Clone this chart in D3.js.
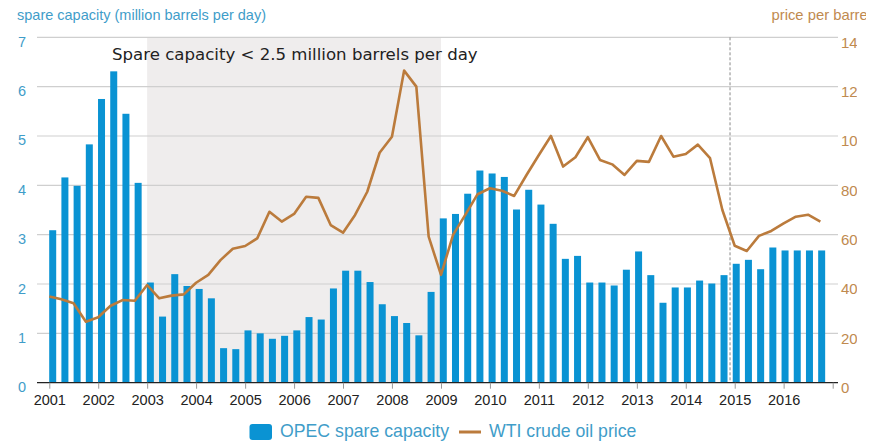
<!DOCTYPE html>
<html><head><meta charset="utf-8">
<script src="https://cdn.jsdelivr.net/npm/d3@7"></script>
<style>
html,body{margin:0;padding:0;background:#fff;}
svg{display:block;font-family:"Liberation Sans",Arial,sans-serif;}
</style></head>
<body>
<svg id="c" width="881" height="441"></svg>
<script>
// quarters 2001Q1..2016Q4
const years = d3.range(2001, 2017);
const quarters = years.flatMap(y => [0,1,2,3].map(q => ({year:y, q})));
const spareCapacity = [
  3.09, 4.16, 3.99, 4.83,
  5.75, 6.31, 5.45, 4.05,
  2.03, 1.34, 2.20, 1.96,
  1.90, 1.71, 0.70, 0.68,
  1.06, 1.00, 0.89, 0.95,
  1.06, 1.33, 1.28, 1.91,
  2.27, 2.27, 2.04, 1.59,
  1.35, 1.21, 0.96, 1.84,
  3.33, 3.42, 3.83, 4.30,
  4.24, 4.17, 3.51, 3.91,
  3.61, 3.22, 2.51, 2.57,
  2.03, 2.03, 1.97, 2.29,
  2.66, 2.18, 1.62, 1.93,
  1.93, 2.07, 2.01, 2.18,
  2.41, 2.49, 2.30, 2.74,
  2.68, 2.68, 2.68, 2.68
];
const wtiPrice = [
  34.9, 33.8, 32.2, 24.7,
  26.5, 31.1, 33.5, 33.2,
  39.6, 34.2, 35.3, 35.8,
  40.5, 43.7, 49.7, 54.3,
  55.4, 58.5, 69.3, 65.3,
  68.4, 75.4, 74.9, 63.9,
  60.8, 68.0, 77.4, 93.2,
  99.7, 126.5, 120.0, 59.2,
  43.7, 59.9, 68.0, 76.4,
  78.8, 77.8, 75.7, 84.2,
  92.3, 100.0, 87.6, 91.4,
  99.5, 90.3, 88.5, 84.2,
  89.9, 89.5, 100.0, 91.6,
  92.7, 96.5, 91.0, 70.0,
  55.5, 53.4, 59.5, 61.5,
  64.6, 67.3, 68.1, 65.3
];
const leftTicks = [0,1,2,3,4,5,6,7];
const rightTicks = [0,20,40,60,80,100,120,140];
const yearTicks = d3.range(2001, 2018);
const shadeStart = new Date(2003,0,1), shadeEnd = new Date(2009,0,1);
const markerDate = new Date(2014,10,27);
const annotation = "Spare capacity < 2.5 million barrels per day";
const leftTitle = "spare capacity (million barrels per day)";
const rightTitle = "price per barrel";
const legendItems = ["OPEC spare capacity", "WTI crude oil price"];

const svg = d3.select("#c");
const L = 37, R = 838, T = 37.3, B = 382.7;
const x = d3.scaleTime().domain([new Date(2001,0,1), new Date(2017,0,1)]).range([49.3, 832.7]);
const xb = d3.scalePoint().domain(d3.range(quarters.length))
  .range([x(new Date(2001,0,1)) + 3.4, x(new Date(2016,9,1)) + 1.3]);
const yL = d3.scaleLinear().domain([0,7]).range([B, T]);
const yR = d3.scaleLinear().domain([0,140]).range([B, T]);
const qDate = d => new Date(d.year, d.q*3, 1);

const blue = "#0a93d3", lblue = "#3f9dc9", brown = "#bb7b3c", tan = "#c08a4f";

const defs = svg.append("defs");
defs.append("clipPath").attr("id","clipR").append("rect").attr("x",0).attr("y",0).attr("width",857).attr("height",441);
defs.append("clipPath").attr("id","clipT").append("rect").attr("x",0).attr("y",0).attr("width",866).attr("height",441);

// shaded region
svg.append("rect").attr("x", x(shadeStart)).attr("y", T)
  .attr("width", x(shadeEnd) - x(shadeStart)).attr("height", B - T).attr("fill", "#efeded");

// gridlines
svg.append("g").selectAll("line").data(leftTicks.filter(d=>d>0)).join("line")
  .attr("x1", L).attr("x2", R).attr("y1", d=>yL(d)).attr("y2", d=>yL(d))
  .attr("stroke", "#cfcfcf").attr("stroke-width", 1.2);

// annotation
svg.append("text").attr("x", 112).attr("y", 60).text(annotation)
  .attr("font-family", "DejaVu Sans, Verdana, sans-serif").attr("font-size", 16.6).attr("fill", "#222");

// bars
svg.append("g").selectAll("rect").data(spareCapacity).join("rect")
  .attr("x", (d,i) => xb(i) - 3.5).attr("width", 7)
  .attr("y", d => yL(d)).attr("height", d => B - yL(d)).attr("fill", blue);

// dashed marker
svg.append("line").attr("x1", x(markerDate)).attr("x2", x(markerDate)).attr("y1", T).attr("y2", B)
  .attr("stroke", "#8a8a8a").attr("stroke-width", 1).attr("stroke-dasharray", "3,2");

// line
const line = d3.line().x((d,i) => x(qDate(quarters[i]))).y(d => yR(d)).curve(d3.curveLinear);
svg.append("path").datum(wtiPrice).attr("d", line).attr("fill", "none")
  .attr("stroke", brown).attr("stroke-width", 2.6).attr("stroke-linejoin", "round");

// baseline
svg.append("line").attr("x1", L).attr("x2", R).attr("y1", B).attr("y2", B).attr("stroke", "#222").attr("stroke-width", 1.3);

// x axis
const xAxis = d3.axisBottom(x).tickValues(yearTicks.map(y => new Date(y,0,1)))
  .tickFormat(d => d.getFullYear() < 2017 ? d3.timeFormat("%Y")(d) : "").tickSize(6).tickPadding(6);
const gx = svg.append("g").attr("transform", `translate(0,${B})`).call(xAxis);
gx.select(".domain").remove();
gx.selectAll(".tick line").attr("stroke", "#999");
gx.selectAll(".tick text").attr("font-size", 14.5).attr("fill", "#222").attr("font-family", "Liberation Sans, Arial, sans-serif");

// left axis
const gl = svg.append("g").attr("transform", `translate(26,0)`)
  .call(d3.axisLeft(yL).tickValues(leftTicks).tickFormat(d3.format("d")).tickSize(0).tickPadding(0));
gl.select(".domain").remove();
gl.selectAll(".tick text").attr("font-size", 14.5).attr("fill", lblue).attr("dy", "0.62em")
  .attr("font-family", "Liberation Sans, Arial, sans-serif");

// right axis
const gr = svg.append("g").attr("clip-path", "url(#clipR)").append("g").attr("transform", `translate(841,0)`)
  .call(d3.axisRight(yR).tickValues(rightTicks).tickFormat(d3.format("d")).tickSize(0).tickPadding(0));
gr.select(".domain").remove();
gr.selectAll(".tick text").attr("font-size", 15).attr("fill", tan).attr("dy", "0.66em")
  .attr("font-family", "Liberation Sans, Arial, sans-serif");

// titles
svg.append("text").attr("x", 17).attr("y", 19.5).text(leftTitle).attr("font-size", 14.5).attr("fill", lblue);
svg.append("g").attr("clip-path", "url(#clipT)").append("text").attr("x", 771.5).attr("y", 19.5)
  .text(rightTitle).attr("font-size", 14.8).attr("fill", tan);

// legend
const lg = svg.append("g");
lg.append("rect").attr("x", 249.5).attr("y", 424).attr("width", 22.5).attr("height", 16).attr("rx", 3).attr("fill", blue);
lg.append("text").attr("x", 280).attr("y", 437).text(legendItems[0]).attr("font-size", 17.7).attr("fill", lblue);
lg.append("line").attr("x1", 459).attr("x2", 481).attr("y1", 432).attr("y2", 432).attr("stroke", brown).attr("stroke-width", 3);
lg.append("text").attr("x", 489).attr("y", 437).text(legendItems[1]).attr("font-size", 17.7).attr("fill", lblue);
</script>
</body></html>
